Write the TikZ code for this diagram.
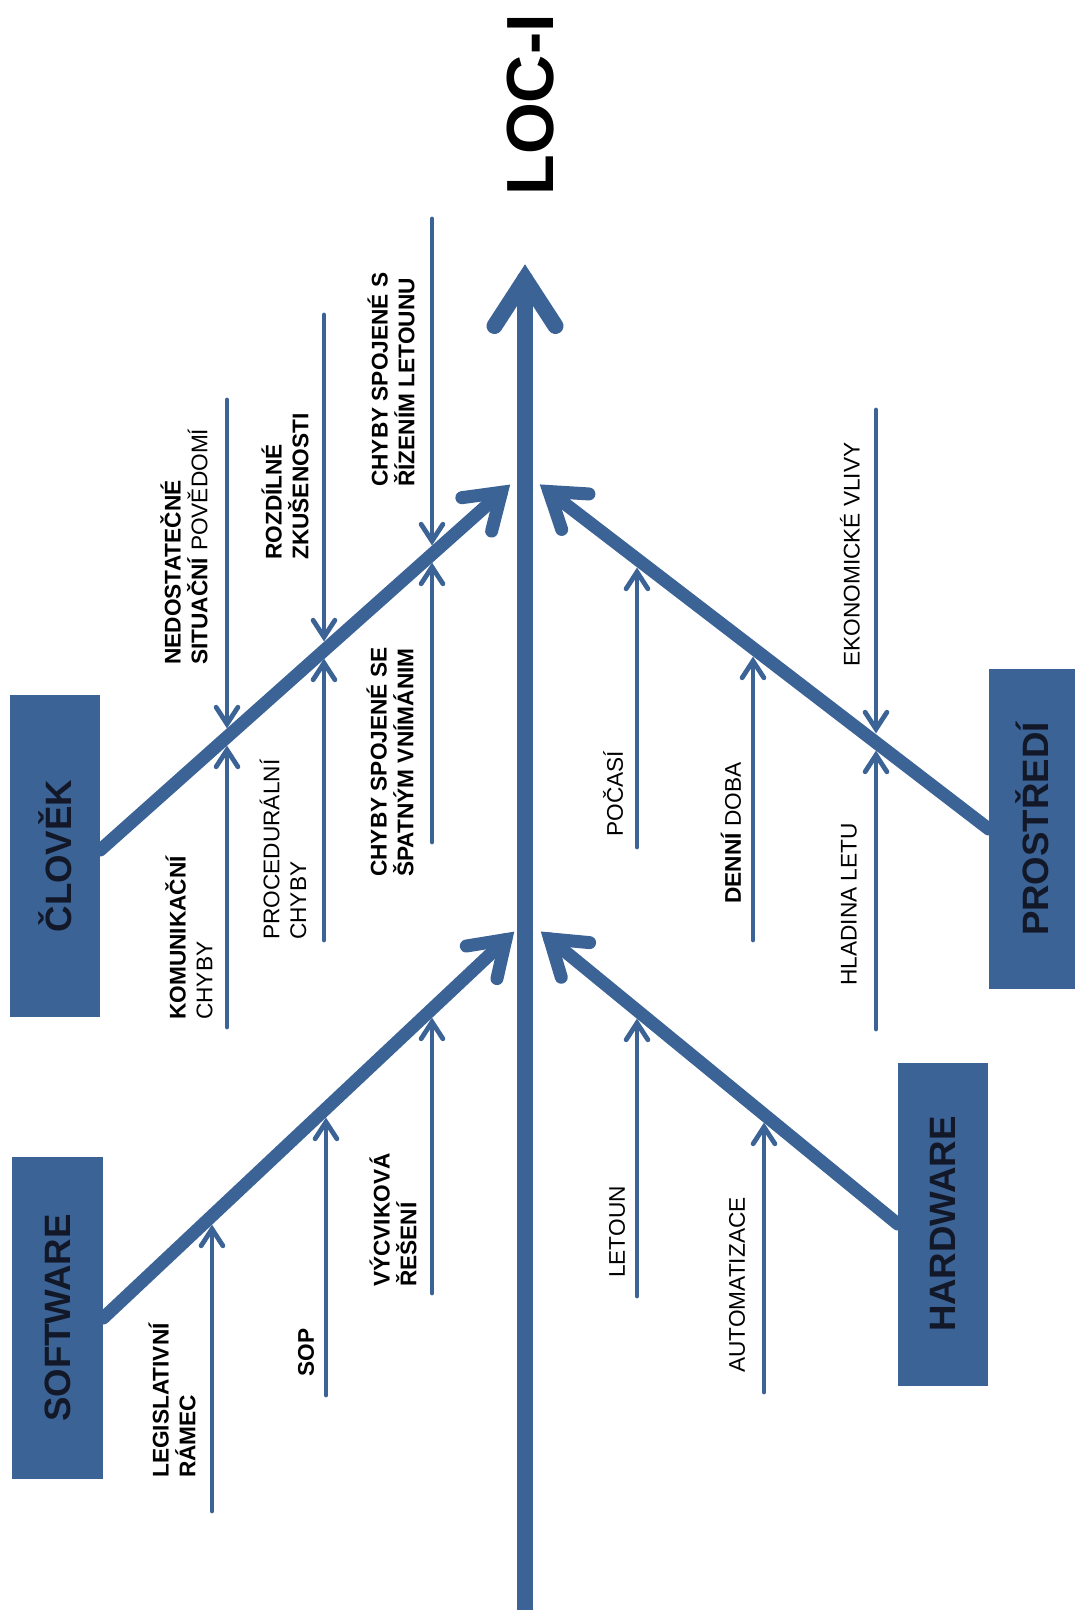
\documentclass[tikz,border=0pt]{standalone}
\usepackage{fontspec}
\setmainfont{Liberation Sans}
\usetikzlibrary{calc}
\definecolor{fishblue}{RGB}{59,99,150}
\definecolor{boxtext}{RGB}{18,24,40}
\newcommand{\fisharrow}[5]{%
  \draw[#1] (#2) -- (#3);
  \draw[#1,line join=miter] ($(#3)!#4!#5:(#2)$) -- (#3) -- ($(#3)!#4!-#5:(#2)$);}
\begin{document}
\begin{tikzpicture}[x=0.75pt,y=-0.75pt,line cap=round,
  spine/.style={draw=fishblue,line width=12pt},
  bone/.style={draw=fishblue,line width=9.75pt},
  twig/.style={draw=fishblue,line width=3.6pt},
  catbox/.style={fill=fishblue,rotate=90,inner sep=0pt,text=boxtext,
    font=\fontsize{27.5}{33}\selectfont\bfseries},
  lab/.style={rotate=90,anchor=west,inner sep=0pt,align=left,
    font=\fontsize{17}{20}\selectfont}]
\useasboundingbox[fill=white] (0,0) rectangle (1075,1610);

% title
\node[rotate=90,inner sep=0pt,font=\fontsize{50}{60}\selectfont\bfseries] (loci) at (531,105) {LOC-I};

% category boxes
\node[catbox,minimum width=241.5pt,minimum height=67.5pt] (clovek) at (55,856) {ČLOVĚK};
\node[catbox,minimum width=241.5pt,minimum height=68.25pt] (software) at (57.5,1318) {SOFTWARE};
\node[catbox,minimum width=240pt,minimum height=64.5pt] (prostredi) at (1032,829) {PROSTŘEDÍ};
\node[catbox,minimum width=242.25pt,minimum height=67.5pt] (hardware) at (943,1224) {HARDWARE};

% spine
\coordinate (sb) at (525,1620);
\coordinate (st) at (525,279);
\fisharrow{spine}{sb}{st}{42pt}{33}

% main bones
\coordinate (b1s) at ($(clovek.south)+(0,-6)$);
\coordinate (b1t) at (501.5,492.3);
\coordinate (b2s) at (prostredi.north);
\coordinate (b2t) at (549,491.5);
\coordinate (b3s) at (software.south);
\coordinate (b3t) at (505.8,939.6);
\coordinate (b4s) at (hardware.north);
\coordinate (b4t) at (549.8,938.9);
\fisharrow{bone}{b1s}{b1t}{30pt}{34}
\fisharrow{bone}{b2s}{b2t}{30pt}{34}
\fisharrow{bone}{b3s}{b3t}{30pt}{34}
\fisharrow{bone}{b4s}{b4t}{30pt}{34}

% small cause arrows
\foreach \n/\x/\ya/\yb in {A1/227/400/724, A2/227/1027/750, A3/324/315/637,
    A4/324/940/663, A5/432/219/541, A6/432/842/567, B1/637/847/572,
    B2/753/940/661, B3/876/410/729, B4/876/1029/755, C1/212/1511/1229,
    C2/326/1395/1122, C3/432/1293/1022, D1/637/1296/1023, D2/764/1392/1127}{
  \coordinate (\n-s) at (\x,\ya);
  \coordinate (\n-t) at (\x,\yb);
  \fisharrow{twig}{\n-s}{\n-t}{15pt}{33}
}

% labels
\node[lab] (lA1) at (184,665) {\textbf{NEDOSTATEČNÉ}\\\textbf{SITUAČNÍ} POVĚDOMÍ};
\node[lab] (lA2) at (189,1020) {\textbf{KOMUNIKAČNÍ}\\CHYBY};
\node[lab] (lA3) at (285,560) {\textbf{ROZDÍLNÉ}\\\textbf{ZKUŠENOSTI}};
\node[lab] (lA4) at (283,940) {PROCEDURÁLNÍ\\CHYBY};
\node[lab] (lA5) at (391,487) {\textbf{CHYBY SPOJENÉ S}\\\textbf{ŘÍZENÍM LETOUNU}};
\node[lab] (lA6) at (390,877) {\textbf{CHYBY SPOJENÉ SE}\\\textbf{ŠPATNÝM VNÍMÁNIM}};
\node[lab] (lB1) at (613,837) {POČASÍ};
\node[lab] (lB2) at (731,904) {\textbf{DENNÍ} DOBA};
\node[lab] (lB3) at (850,667) {EKONOMICKÉ VLIVY};
\node[lab] (lB4) at (849,986) {HLADINA LETU};
\node[lab] (lC1) at (172,1478) {\textbf{LEGISLATIVNÍ}\\\textbf{RÁMEC}};
\node[lab] (lC2) at (306,1377) {\textbf{SOP}};
\node[lab] (lC3) at (393,1287) {\textbf{VÝCVIKOVÁ}\\\textbf{ŘEŠENÍ}};
\node[lab] (lD1) at (617,1278) {LETOUN};
\node[lab] (lD2) at (737,1373) {AUTOMATIZACE};
\end{tikzpicture}
\end{document}
